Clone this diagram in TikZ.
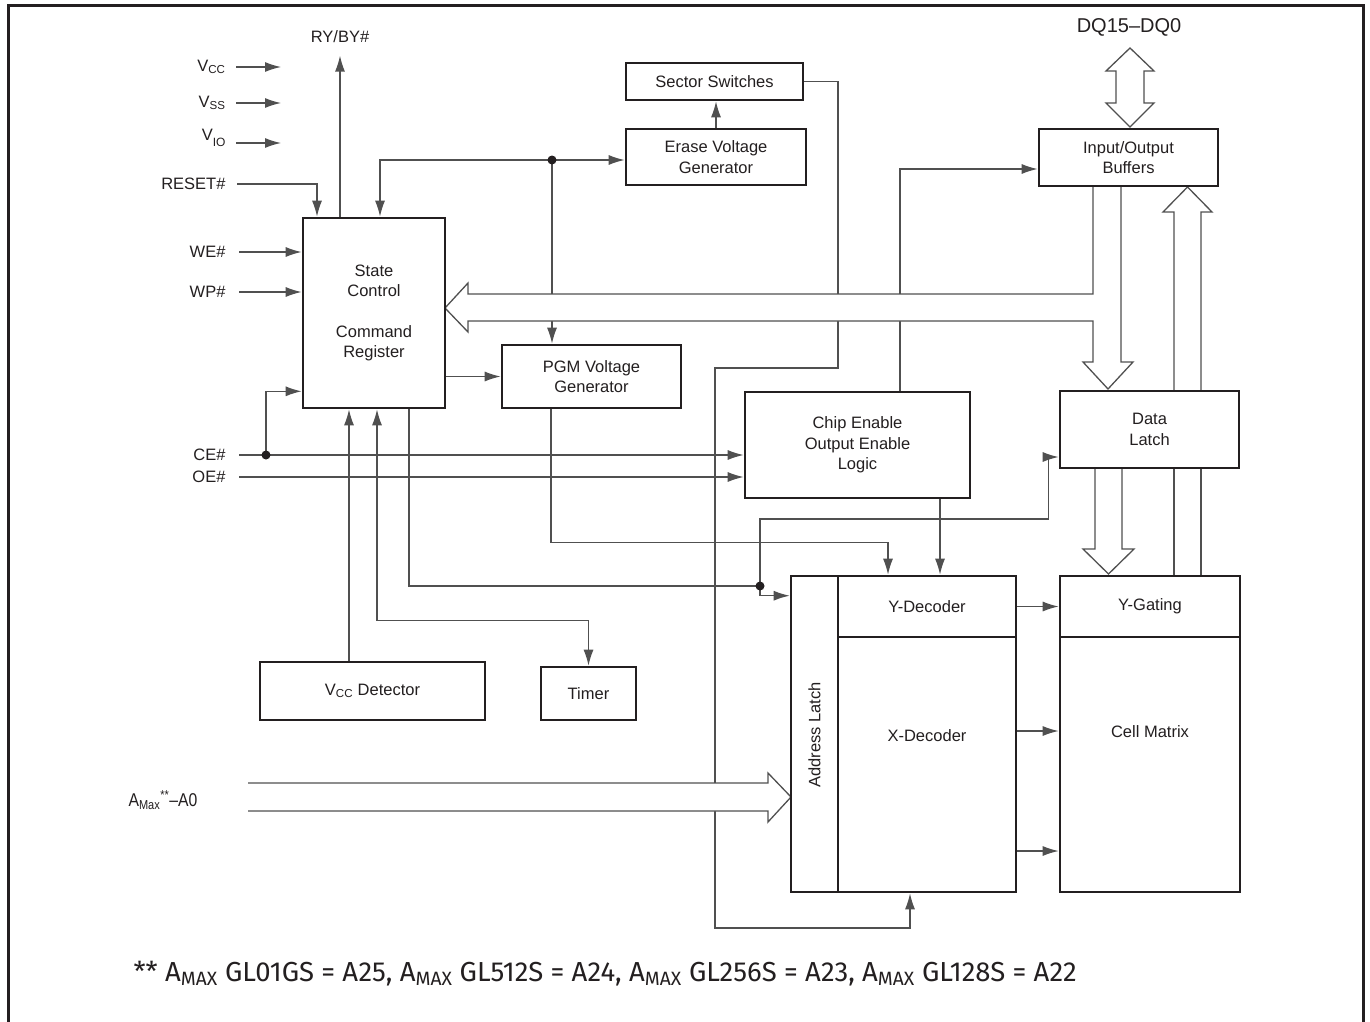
\documentclass[tikz,border=0pt]{standalone}
\usepackage{fontspec}
\setmainfont{Liberation Sans}
\newfontfamily\notefont{Fira Sans}
\newfontfamily\pinfont[FakeStretch=0.85,Ligatures=TeX]{Liberation Sans}
\usetikzlibrary{arrows.meta}
\definecolor{ink}{HTML}{231F20}
\definecolor{wirec}{HTML}{505050}
\pgfdeclarelayer{back}
\pgfsetlayers{back,main}

\begin{document}
\begin{tikzpicture}[x=1pt,y=-1pt,
    font=\fontsize{16.5}{20.5}\selectfont,
    every node/.style={text=ink},
    box/.style={draw=ink,line width=2.6pt,fill=white,inner sep=0pt,align=center},
    wire/.style={draw=wirec,line width=1.3pt},
    arr/.style={wire,-{Latex[length=16pt,width=10pt]}},
    arrboth/.style={wire,{Latex[length=16pt,width=10pt]}-{Latex[length=16pt,width=10pt]}},
    bus/.style={draw=wirec,line width=1.3pt,fill=white}]

    \useasboundingbox (0,0) rectangle (1370,1022);

    %draw frame
    \draw[ink,line width=3pt] (8,1022) -- (8,6) -- (1363,6) -- (1363,1022);

    %draw blocks
    \node[box,minimum width=142pt,minimum height=190pt] (sc) at (374,313) {State\\Control\\[20pt]Command\\Register};
    \node[box,minimum width=177pt,minimum height=37pt] (sect) at (714.5,81.5) {Sector Switches};
    \node[box,minimum width=180pt,minimum height=56pt] (erase) at (716,157) {Erase Voltage\\Generator};
    \node[box,minimum width=179pt,minimum height=57pt] (io) at (1128.5,157.5) {Input/Output\\Buffers};
    \node[box,minimum width=179pt,minimum height=63pt] (pgm) at (591.5,376.5) {PGM Voltage\\Generator};
    \node[box,minimum width=225pt,minimum height=106pt] (ce) at (857.5,445) {Chip Enable\\Output Enable\\Logic};
    \node[box,minimum width=179pt,minimum height=77pt] (dl) at (1149.5,429.5) {Data\\Latch};
    \node[box,minimum width=225pt,minimum height=58pt] (vccd) at (372.5,691) {V\textsubscript{CC} Detector};
    \node[box,minimum width=95pt,minimum height=53pt] (timer) at (588.5,693.5) {Timer};

    \node[box,minimum width=47pt,minimum height=316pt] (al) at (814.5,734) {};
    \node[box,minimum width=178pt,minimum height=61pt] (yd) at (927,606.5) {Y-Decoder};
    \node[box,minimum width=178pt,minimum height=255pt] (xd) at (927,764.5) {};
    \node[box,minimum width=180pt,minimum height=61pt] (yg) at (1150,606.5) {Y-Gating};
    \node[box,minimum width=180pt,minimum height=255pt] (cm) at (1150,764.5) {};
    \node[rotate=90] (altext) at (814.5,735) {Address Latch};
    \node (xdtext) at (927,736) {X-Decoder};
    \node (cmtext) at (1150,732) {Cell Matrix};

    %draw pin labels
    \node[anchor=east] (vcc) at (229,67) {V\textsubscript{CC}};
    \node[anchor=east] (vss) at (229,103) {V\textsubscript{SS}};
    \node[anchor=east] (vio) at (229,138) {V\raisebox{-6pt}{\fontsize{12}{12}\selectfont IO}};
    \node[anchor=east] (rst) at (229,184) {RESET\#};
    \node (rdy) at (340,37) {RY/BY\#};
    \node[anchor=east] (we) at (229,252) {WE\#};
    \node[anchor=east] (wp) at (229,292) {WP\#};
    \node[anchor=east] (cen) at (229,455) {CE\#};
    \node[anchor=east] (oen) at (229,477) {OE\#};
    \node[font=\fontsize{20}{24}\selectfont] (dq) at (1129,27) {DQ15–DQ0};
    \node[font=\pinfont\fontsize{18.5}{22}\selectfont] (amax) at (163,800) {A\textsubscript{Max}\textsuperscript{**}–A0};
    \node[anchor=base west,font=\notefont\fontsize{27.5}{30}\selectfont] (note) at (130,981)
        {** A\textsubscript{MAX} GL01GS = A25, A\textsubscript{MAX} GL512S = A24, A\textsubscript{MAX} GL256S = A23, A\textsubscript{MAX} GL128S = A22};

    \coordinate (j1) at (552,160);
    \coordinate (j2) at (266,455);
    \coordinate (j3) at (760,586);

    \begin{pgfonlayer}{back}
    %draw pin arrows
    \draw[arr] ([xshift=7pt]vcc.east) -- ++(45,0);
    \draw[arr] ([xshift=7pt]vss.east) -- ++(45,0);
    \draw[arr] ([xshift=7pt]vio.east |- 0,143) -- ++(45,0);
    \draw[arr] ([xshift=8pt]rst.east) -| ([xshift=-57pt]sc.north);
    \draw[arr] (sc.north -| rdy) -- ([yshift=-9pt]rdy.south);
    \draw[arr] ([xshift=10pt]we.east) -- (we.east -| sc.west);
    \draw[arr] ([xshift=10pt]wp.east) -- (wp.east -| sc.west);
    \draw[arr] ([xshift=10pt]cen.east) -- (cen.east -| ce.west);
    \draw[arr] ([xshift=10pt]oen.east) -- (oen.east -| ce.west);
    \draw[arr] (j2) |- ([yshift=18pt]sc.south west);

    %draw control lines
    \draw[arr] (j1) -| ([xshift=6pt]sc.north);
    \draw[arr] (j1) -- (j1 -| erase.west);
    \draw[arr] (j1) -- (j1 |- pgm.north);
    \draw[arr] (erase.north) -- (erase.north |- sect.south);
    \draw[arr] (sect.east) -| (838,368) -| (715,928) -| ([xshift=-17pt]xd.south);
    \draw[arr] ([xshift=42.5pt]ce.north) |- ([yshift=-11.5pt]io.west);
    \draw[arr] (sc.east |- pgm.west) -- (pgm.west);
    \draw[arr] ([xshift=-23.5pt]vccd.north) -- ([xshift=-25pt]sc.south);
    \draw[arrboth] ([xshift=3pt]sc.south) |- ([yshift=45pt]timer.north) -- (timer.north);
    \draw[wire] ([xshift=35pt]sc.south) |- (j3);
    \draw[arr] (j3) |- ([yshift=-21pt]al.north west);
    \draw[arr] (j3) -- ++(0,-67) -| ([xshift=-10pt,yshift=-27.5pt]dl.west) -- ([yshift=-27.5pt]dl.west);
    \draw[arr] ([xshift=-40.5pt]pgm.south) -- ++(0,133) -| ([xshift=-39pt]yd.north);
    \draw[arr] ([xshift=82.5pt]ce.south) -- ([xshift=13pt]yd.north);
    \draw[arr] (yd.east) -- (yd.east -| yg.west);
    \draw[arr] ([yshift=33.5pt]xd.east) -- ([yshift=33.5pt]xd.east -| cm.west);
    \draw[arr] ([yshift=-86.5pt]xd.east) -- ([yshift=-86.5pt]xd.east -| cm.west);

    %draw buses
    \filldraw[bus] (1093,186) -- (1093,294) -- (468,294) -- (468,283) -- (445,308) -- (468,332) -- (468,321)
        -- (1093,321) -- (1093,362) -- (1083,362) -- (1108,389) -- (1133,362) -- (1121,362) -- (1121,186);
    \filldraw[bus] (1174,391) -- (1174,212) -- (1163,212) -- (1187.5,187) -- (1212,212) -- (1201,212) -- (1201,391);
    \draw[wire] (1174,468) -- (1174,577);
    \draw[wire] (1201,468) -- (1201,577);
    \filldraw[bus] (1095,468) -- (1095,549) -- (1083,549) -- (1108.5,574) -- (1134,549) -- (1122,549) -- (1122,468);
    \filldraw[bus] (1130,48) -- (1154,71) -- (1144,71) -- (1144,103) -- (1154,103) -- (1130,127)
        -- (1106,103) -- (1116,103) -- (1116,71) -- (1106,71) -- cycle;
    \filldraw[bus] (248,783) -- (768,783) -- (768,773) -- (791,797) -- (768,822) -- (768,811) -- (248,811);
    \end{pgfonlayer}

    %draw junctions
    \fill[ink] (j1) circle (4.5);
    \fill[ink] (j2) circle (4.5);
    \fill[ink] (j3) circle (4.5);

\end{tikzpicture}
\end{document}
